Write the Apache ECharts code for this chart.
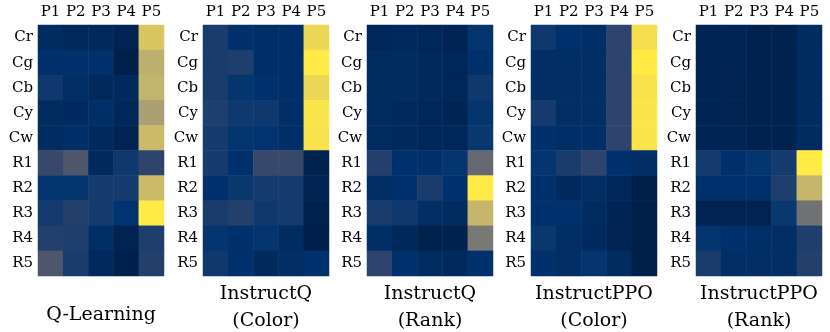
<!DOCTYPE html>
<html>
<head>
<meta charset="utf-8">
<script src="https://cdn.jsdelivr.net/npm/echarts@6/dist/echarts.min.js"></script>
<style>
  html, body { margin: 0; padding: 0; background: #fff; }
  #chart { width: 830px; height: 332px; }
</style>
</head>
<body>
<div id="chart"></div>
<script>
// columnas y filas
const columnas = ['P1', 'P2', 'P3', 'P4', 'P5'];
const filas = ['Cr', 'Cg', 'Cb', 'Cy', 'Cw', 'R1', 'R2', 'R3', 'R4', 'R5'];
const titulos = ['Q-Learning', 'InstructQ\n(Color)', 'InstructQ\n(Rank)', 'InstructPPO\n(Color)', 'InstructPPO\n(Rank)'];

// valores normalizados (0-1), una fila por estado
const qLearning = [
    [0.07, 0.05, 0.05, 0.02, 0.85],
    [0.10, 0.10, 0.10, 0.00, 0.75],
    [0.14, 0.08, 0.05, 0.06, 0.77],
    [0.07, 0.06, 0.09, 0.04, 0.68],
    [0.07, 0.09, 0.06, 0.02, 0.80],
    [0.22, 0.30, 0.05, 0.14, 0.20],
    [0.12, 0.12, 0.15, 0.15, 0.80],
    [0.15, 0.18, 0.15, 0.11, 1.00],
    [0.18, 0.17, 0.09, 0.02, 0.17],
    [0.30, 0.16, 0.06, 0.00, 0.18]
];
const instructQColor = [
    [0.16, 0.10, 0.09, 0.09, 0.92],
    [0.16, 0.17, 0.09, 0.09, 1.00],
    [0.16, 0.12, 0.10, 0.09, 0.92],
    [0.17, 0.14, 0.14, 0.09, 0.98],
    [0.15, 0.12, 0.11, 0.09, 0.97],
    [0.15, 0.10, 0.22, 0.22, 0.01],
    [0.10, 0.13, 0.15, 0.15, 0.02],
    [0.16, 0.18, 0.14, 0.15, 0.01],
    [0.12, 0.10, 0.12, 0.07, 0.00],
    [0.14, 0.10, 0.05, 0.08, 0.10]
];
const instructQRank = [
    [0.04, 0.06, 0.04, 0.03, 0.12],
    [0.07, 0.07, 0.05, 0.04, 0.10],
    [0.07, 0.07, 0.05, 0.04, 0.14],
    [0.07, 0.06, 0.04, 0.03, 0.12],
    [0.07, 0.05, 0.04, 0.04, 0.13],
    [0.18, 0.10, 0.10, 0.12, 0.40],
    [0.08, 0.10, 0.16, 0.10, 1.00],
    [0.16, 0.14, 0.08, 0.07, 0.78],
    [0.09, 0.04, 0.01, 0.01, 0.48],
    [0.20, 0.10, 0.07, 0.06, 0.10]
];
const instructPPOColor = [
    [0.14, 0.10, 0.09, 0.20, 0.95],
    [0.08, 0.08, 0.08, 0.20, 1.00],
    [0.08, 0.08, 0.08, 0.20, 0.97],
    [0.15, 0.08, 0.08, 0.20, 0.98],
    [0.10, 0.09, 0.09, 0.20, 0.98],
    [0.12, 0.16, 0.20, 0.10, 0.08],
    [0.10, 0.06, 0.08, 0.04, 0.00],
    [0.10, 0.10, 0.07, 0.03, 0.00],
    [0.13, 0.08, 0.06, 0.02, 0.00],
    [0.10, 0.08, 0.12, 0.07, 0.00]
];
const instructPPORank = [
    [0.03, 0.03, 0.01, 0.01, 0.07],
    [0.03, 0.03, 0.01, 0.01, 0.07],
    [0.03, 0.02, 0.01, 0.01, 0.07],
    [0.03, 0.02, 0.01, 0.01, 0.07],
    [0.03, 0.03, 0.01, 0.01, 0.07],
    [0.15, 0.10, 0.12, 0.15, 1.00],
    [0.10, 0.10, 0.10, 0.17, 0.78],
    [0.02, 0.02, 0.02, 0.13, 0.45],
    [0.12, 0.10, 0.09, 0.08, 0.17],
    [0.16, 0.08, 0.08, 0.08, 0.18]
];

const matrices = [qLearning, instructQColor, instructQRank, instructPPOColor, instructPPORank];
const izquierdas = [38, 203, 367, 531, 696];
const ancho = 126;
const cividis = ['#00204C', '#00336F', '#39486B', '#575C6D', '#707173', '#8A8779', '#A69D75', '#C4B56C', '#E4CF5B', '#FFEA46'];
const fuente = 'DejaVu Serif';

const chart = echarts.init(document.getElementById('chart'));

const grids = [], xAxes = [], yAxes = [], series = [], titles = [];
matrices.forEach((m, i) => {
    grids.push({ left: izquierdas[i], top: 25, width: ancho, height: 251 });
    xAxes.push({
        type: 'category', data: columnas, gridIndex: i, position: 'top',
        axisLine: { show: false }, axisTick: { show: false }, splitLine: { show: false },
        axisLabel: { interval: 0, fontFamily: fuente, fontSize: 15, color: '#000', margin: 5 }
    });
    yAxes.push({
        type: 'category', data: filas, gridIndex: i, inverse: true,
        axisLine: { show: false }, axisTick: { show: false }, splitLine: { show: false },
        axisLabel: { interval: 0, fontFamily: fuente, fontSize: 15, color: '#000', margin: 5 }
    });
    const datos = [];
    m.forEach((fila, r) => fila.forEach((v, c) => datos.push([c, r, v])));
    series.push({
        type: 'heatmap', xAxisIndex: i, yAxisIndex: i, data: datos,
        itemStyle: { borderWidth: 0 }, emphasis: { disabled: true }
    });
    const dosLineas = titulos[i].includes('\n');
    titles.push({
        text: titulos[i],
        left: izquierdas[i] + ancho / 2,
        top: dosLineas ? 281 : 302,
        padding: 0,
        textAlign: 'center',
        textStyle: { fontFamily: fuente, fontSize: 19, fontWeight: 'normal', color: '#000', lineHeight: 27 }
    });
});

chart.setOption({
    animation: false,
    title: titles,
    grid: grids,
    xAxis: xAxes,
    yAxis: yAxes,
    visualMap: {
        show: false, min: 0, max: 1, calculable: false,
        seriesIndex: [0, 1, 2, 3, 4],
        inRange: { color: cividis }
    },
    series: series
});

window.addEventListener('resize', () => chart.resize());
</script>
</body>
</html>
